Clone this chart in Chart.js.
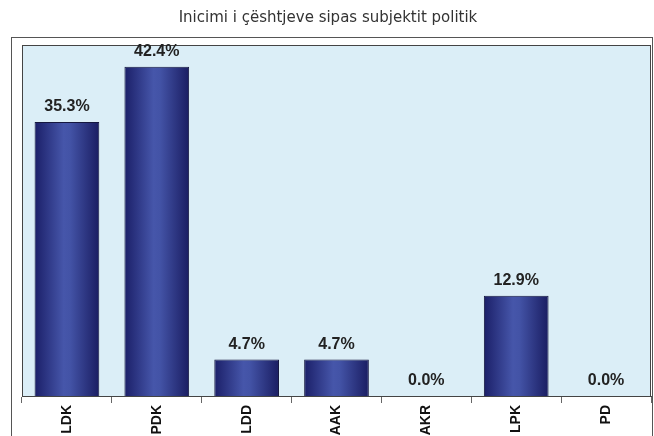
<!DOCTYPE html>
<html>
<head>
<meta charset="utf-8">
<script src="https://cdn.jsdelivr.net/npm/chart.js@4/dist/chart.umd.min.js"></script>
<style>
  html, body { margin: 0; padding: 0; background: #fff; }
  #wrap { width: 654px; height: 436px; }
</style>
</head>
<body>
<div id="wrap"><canvas id="chart" width="654" height="436"></canvas></div>
<script>
const titleText = "Inicimi i çështjeve sipas subjektit politik";
const parties = ["LDK", "PDK", "LDD", "AAK", "AKR", "LPK", "PD"];
const shares = [35.3, 42.4, 4.7, 4.7, 0.0, 12.9, 0.0];

function barGradient(ctx) {
  const chart = ctx.chart;
  const xs = chart.scales.x;
  if (!xs || !chart.chartArea) return "#2b3488";
  const cx = xs.getPixelForValue(ctx.dataIndex);
  const w = (xs.width / parties.length) * 0.72;
  const g = chart.ctx.createLinearGradient(cx - w / 2, 0, cx + w / 2, 0);
  g.addColorStop(0, "#1b1f68");
  g.addColorStop(0.45, "#4656aa");
  g.addColorStop(0.55, "#4353a6");
  g.addColorStop(1, "#1a1d62");
  return g;
}

// background, frame, plot area and title
const framePlugin = {
  id: "frame",
  beforeDraw(chart) {
    const c = chart.ctx, a = chart.chartArea;
    c.save();
    c.fillStyle = "#fff";
    c.fillRect(0, 0, chart.width, chart.height);
    c.strokeStyle = "#555";
    c.lineWidth = 1;
    c.strokeRect(11.5, 37.5, 641, 420);
    c.fillStyle = "#dbeef7";
    c.fillRect(a.left, a.top, a.right - a.left, a.bottom - a.top);
    c.strokeStyle = "#444";
    c.strokeRect(a.left + 0.5, a.top + 0.5, a.right - a.left - 1, a.bottom - a.top);
    c.fillStyle = "#333";
    c.font = "15px 'DejaVu Sans'";
    c.textAlign = "center";
    c.textBaseline = "middle";
    c.fillText(titleText, 328, 18);
    c.restore();
  }
};

const valueLabels = {
  id: "valueLabels",
  afterDatasetsDraw(chart) {
    const c = chart.ctx;
    const meta = chart.getDatasetMeta(0);
    c.save();
    c.fillStyle = "#222";
    c.font = "bold 16px 'Liberation Sans'";
    c.textAlign = "center";
    c.textBaseline = "alphabetic";
    meta.data.forEach((bar, i) => {
      c.fillText(shares[i].toFixed(1) + "%", bar.x, bar.y - 11);
    });
    c.restore();
  }
};

new Chart(document.getElementById("chart"), {
  type: "bar",
  data: {
    labels: parties,
    datasets: [{
      data: shares,
      backgroundColor: barGradient,
      borderColor: "#15173f",
      borderWidth: 1,
      borderSkipped: "bottom",
      barPercentage: 0.72,
      categoryPercentage: 1
    }]
  },
  options: {
    responsive: false,
    animation: false,
    layout: { padding: { top: 45, left: 22, right: 3, bottom: 0 } },
    plugins: {
      legend: { display: false },
      title: { display: false },
      tooltip: { enabled: false }
    },
    scales: {
      y: { display: false, min: 0, max: 45.2 },
      x: {
        grid: {
          offset: true,
          drawOnChartArea: false,
          drawTicks: true,
          tickLength: 7,
          color: "#666"
        },
        border: { display: true, color: "#444" },
        ticks: {
          minRotation: 90,
          maxRotation: 90,
          padding: 2,
          color: "#111",
          font: { family: "Liberation Sans", size: 14, weight: "bold" }
        },
        afterFit(scale) { scale.height = 40; }
      }
    }
  },
  plugins: [framePlugin, valueLabels]
});
</script>
</body>
</html>
